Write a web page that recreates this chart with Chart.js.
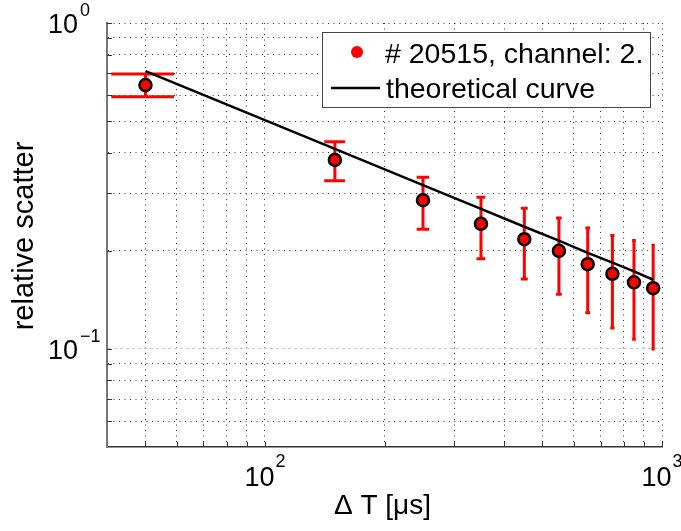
<!DOCTYPE html>
<html>
<head>
<meta charset="utf-8">
<script src="https://cdn.jsdelivr.net/npm/chart.js@4.4.1/dist/chart.umd.min.js"></script>
<style>
  html, body { margin: 0; padding: 0; background: #fff; }
  #chart { display: block; }
</style>
</head>
<body>
<canvas id="chart" width="681" height="531"></canvas>
<script>
// Values
const deltaT = [50, 150, 250, 350, 450, 550, 650, 750, 850, 950];
const scatterMean = [0.645, 0.380, 0.286, 0.242, 0.217, 0.200, 0.182, 0.170, 0.160, 0.1535];
const scatterUpper = [0.698, 0.432, 0.336, 0.292, 0.270, 0.252, 0.235, 0.223, 0.215, 0.208];
const scatterLower = [0.594, 0.328, 0.233, 0.189, 0.164, 0.147, 0.129, 0.116, 0.107, 0.100];
const theoryCurve = [0.712, 0.411, 0.318, 0.269, 0.237, 0.215, 0.197, 0.184, 0.173, 0.163];

// Tick positions and decade labels
const xTicks = [50, 60, 70, 80, 90, 100, 200, 300, 400, 500, 600, 700, 800, 900, 1000];
const yTicks = [0.06, 0.07, 0.08, 0.09, 0.1, 0.2, 0.3, 0.4, 0.5, 0.6, 0.7, 0.8, 0.9, 1];
const xDecades = [100, 1000];
const xExponents = ['2', '3'];
const yDecades = [0.1, 1];
const yExponents = ['\u22121', '0'];

const dataLabel = '# 20515, channel: 2.';
const curveLabel = 'theoretical curve';
const xTitle = '\u0394 T [\u03bcs]';
const yTitle = 'relative scatter';
const capHalfWidth = 9; // error bar cap, in data units

const FONT = '"Liberation Sans", Arial, Helvetica, sans-serif';

// Red error bars, drawn under the markers
const errorBars = {
    id: 'errorBars',
    beforeDatasetsDraw(chart) {
        const { ctx, scales: { x, y } } = chart;
        ctx.save();
        ctx.strokeStyle = '#ff0000';
        ctx.lineWidth = 3;
        deltaT.forEach((t, i) => {
            const px = x.getPixelForValue(t);
            const top = y.getPixelForValue(scatterUpper[i]);
            const bottom = y.getPixelForValue(scatterLower[i]);
            const left = x.getPixelForValue(t - capHalfWidth);
            const right = x.getPixelForValue(t + capHalfWidth);
            ctx.beginPath();
            ctx.moveTo(px, top); ctx.lineTo(px, bottom);
            ctx.moveTo(left, top); ctx.lineTo(right, top);
            ctx.moveTo(left, bottom); ctx.lineTo(right, bottom);
            ctx.stroke();
        });
        ctx.restore();
    }
};

// Tick marks, power-of-ten labels, axis titles and legend box
const decorations = {
    id: 'decorations',
    afterDraw(chart) {
        const { ctx, chartArea: area, scales: { x, y } } = chart;
        ctx.save();

        // inward ticks
        ctx.strokeStyle = '#333';
        ctx.lineWidth = 1;
        ctx.beginPath();
        xTicks.forEach(v => {
            const px = Math.round(x.getPixelForValue(v)) + 0.5;
            ctx.moveTo(px, area.bottom); ctx.lineTo(px, area.bottom - 5);
        });
        yTicks.forEach(v => {
            const py = Math.round(y.getPixelForValue(v)) + 0.5;
            ctx.moveTo(area.left, py); ctx.lineTo(area.left + 5, py);
        });
        ctx.stroke();

        ctx.fillStyle = '#000';
        ctx.textBaseline = 'alphabetic';

        // y labels: 10^-1, 10^0
        yDecades.forEach((v, i) => {
            const py = y.getPixelForValue(v);
            ctx.font = '27px ' + FONT;
            ctx.textAlign = 'right';
            ctx.fillText('10', area.left - 29, py + 10);
            ctx.font = '18px ' + FONT;
            ctx.textAlign = 'left';
            ctx.fillText(yExponents[i], area.left - 27, py - 7);
        });

        // x labels: 10^2, 10^3
        xDecades.forEach((v, i) => {
            const px = x.getPixelForValue(v);
            ctx.font = '27px ' + FONT;
            const w1 = ctx.measureText('10').width;
            ctx.font = '18px ' + FONT;
            const w2 = ctx.measureText(xExponents[i]).width;
            const start = px - (w1 + 1 + w2) / 2;
            ctx.textAlign = 'left';
            ctx.font = '27px ' + FONT;
            ctx.fillText('10', start, area.bottom + 39);
            ctx.font = '18px ' + FONT;
            ctx.fillText(xExponents[i], start + w1 + 1, area.bottom + 20);
        });

        // axis titles
        ctx.font = '28px ' + FONT;
        ctx.textAlign = 'center';
        ctx.fillText(xTitle, (area.left + area.right) / 2 - 2, area.bottom + 67);
        ctx.save();
        ctx.translate(33, (area.top + area.bottom) / 2 + 1);
        ctx.rotate(-Math.PI / 2);
        ctx.font = '29px ' + FONT;
        ctx.fillText(yTitle, 0, 0);
        ctx.restore();

        // legend
        const box = { left: 322, top: 32, width: 328, height: 75 };
        ctx.fillStyle = '#fff';
        ctx.fillRect(box.left, box.top, box.width, box.height);
        ctx.strokeStyle = '#444';
        ctx.lineWidth = 1;
        ctx.strokeRect(box.left + 0.5, box.top + 0.5, box.width, box.height);

        ctx.fillStyle = '#ff0000';
        ctx.beginPath();
        ctx.arc(357, 52, 6, 0, Math.PI * 2);
        ctx.fill();

        ctx.strokeStyle = '#000';
        ctx.lineWidth = 2.5;
        ctx.beginPath();
        ctx.moveTo(331, 88); ctx.lineTo(380, 88);
        ctx.stroke();

        ctx.fillStyle = '#000';
        ctx.font = '28.5px ' + FONT;
        ctx.textAlign = 'left';
        ctx.fillText(dataLabel, 385, 63);
        ctx.fillText(curveLabel, 386, 98);

        ctx.restore();
    }
};

const gridColor = c => (c.tick && c.tick.value === 0.1 ? '#c8c8c8' : '#333');
const gridDash = c => (c.tick && c.tick.value === 0.1 ? [3, 3] : [1, 4.5]);

new Chart(document.getElementById('chart'), {
    type: 'scatter',
    data: {
        datasets: [{
            label: dataLabel,
            data: deltaT.map((t, i) => ({ x: t, y: scatterMean[i] })),
            backgroundColor: '#ff0000',
            borderColor: '#000',
            borderWidth: 2.5,
            pointRadius: 6,
            pointHoverRadius: 6,
            order: 0
        }, {
            label: curveLabel,
            data: deltaT.map((t, i) => ({ x: t, y: theoryCurve[i] })),
            showLine: true,
            borderColor: '#000',
            borderWidth: 2.5,
            pointRadius: 0,
            tension: 0,
            order: 1
        }]
    },
    options: {
        responsive: false,
        animation: false,
        devicePixelRatio: 1,
        layout: { padding: { left: 107, top: 23, right: 19, bottom: 84 } },
        plugins: {
            legend: { display: false },
            tooltip: { enabled: false }
        },
        scales: {
            x: {
                type: 'logarithmic',
                min: 40,
                max: 1000,
                afterBuildTicks: scale => { scale.ticks = xTicks.map(v => ({ value: v })); },
                ticks: { display: false },
                grid: { color: gridColor, lineWidth: 1, drawTicks: false },
                border: { color: '#333', width: 1.5, dash: gridDash }
            },
            y: {
                type: 'logarithmic',
                min: 0.05,
                max: 1,
                afterBuildTicks: scale => { scale.ticks = yTicks.map(v => ({ value: v })); },
                ticks: { display: false },
                grid: { color: gridColor, lineWidth: 1, drawTicks: false },
                border: { color: '#777', width: 2, dash: gridDash }
            }
        }
    },
    plugins: [errorBars, decorations]
});
</script>
</body>
</html>
